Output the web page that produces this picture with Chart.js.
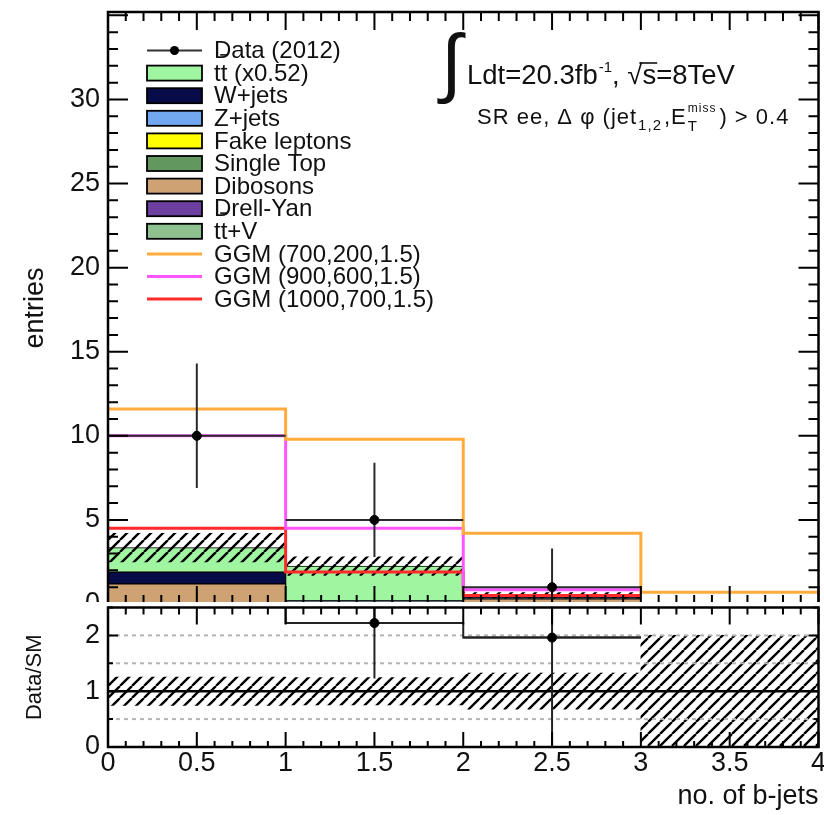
<!DOCTYPE html>
<html>
<head>
<meta charset="utf-8">
<script src="https://cdn.jsdelivr.net/npm/chart.js@4/dist/chart.umd.min.js"></script>
<style>
  html, body { margin: 0; padding: 0; background: #fff; }
  #wrap { position: relative; width: 824px; height: 815px; overflow: hidden; background: #fff; }
  #main { position: absolute; left: 0; top: 0; }
  #ratio { position: absolute; left: 0; top: 602px; background: #fff; }
</style>
</head>
<body>
<div id="wrap">
  <canvas id="main" width="824" height="815"></canvas>
  <canvas id="ratio" width="824" height="213"></canvas>
</div>
<script>
// ---- binning (number of b-jets) ----
const binLabels = ['0', '1', '2', '3'];
const binEdges = [0, 1, 2, 3, 4];
const binCenters = [0.5, 1.5, 2.5, 3.5];

// ---- SM backgrounds, entries per bin ----
const dibosons    = [1.20, 0.10, 0.30, 0.02];
const wJets       = [0.70, 0.05, 0.02, 0.00];
const zJets       = [0.00, 0.00, 0.00, 0.00];
const fakeLeptons = [0.00, 0.00, 0.00, 0.00];
const singleTop   = [0.00, 0.00, 0.04, 0.00];
const drellYan    = [0.00, 0.00, 0.02, 0.00];
const ttV         = [0.00, 0.05, 0.00, 0.00];
const ttbar       = [1.45, 2.05, 0.13, 0.03];
const smUncertainty = [0.85, 0.55, 0.165, 0.05];

// ---- GGM signal points ----
const ggm700  = [11.6, 9.8, 4.2, 0.7];
const ggm900  = [10.0, 4.5, 0.85, 0];
const ggm1000 = [4.5, 1.9, 0.5, 0];

// ---- observed data ----
const dataCounts  = [10, 5, 1, 0];
const dataErrLow  = [3.1, 2.2, 0.83, 0];
const dataErrHigh = [4.3, 3.4, 2.3, 0];

// ---- axes ----
const entriesMax = 35.2;
const entriesTicks = [0, 5, 10, 15, 20, 25, 30];
const ratioMax = 2.5;
const ratioTicks = [0, 1, 2];
const ratioGuides = [0.5, 1.5, 2];
const bjetTicks = [0, 0.5, 1, 1.5, 2, 2.5, 3, 3.5, 4];

const FONT = "'Liberation Sans', Arial, Helvetica, sans-serif";
const INK = '#111';
Chart.defaults.font.family = FONT;
Chart.defaults.color = INK;

// diagonal hatching used for the MC uncertainty bands
function hatch(period, width) {
  const c = document.createElement('canvas');
  c.width = period; c.height = period;
  const g = c.getContext('2d');
  g.strokeStyle = '#000';
  g.lineWidth = width;
  g.beginPath();
  for (let k = -1; k <= 1; k++) {
    g.moveTo(k * period, period);
    g.lineTo(k * period + period, 0);
  }
  g.stroke();
  return g.createPattern(c, 'repeat');
}

// histogram outline points; trailing empty bins are left out
function stepPoints(vals) {
  let n = vals.length;
  while (n > 0 && !(vals[n - 1] > 0)) n--;
  const pts = [];
  for (let i = 0; i < n; i++) pts.push({ x: binEdges[i], y: vals[i] });
  if (n) pts.push({ x: binEdges[n], y: vals[n - 1] });
  return pts;
}

// vertical + horizontal error bar segments, separated by gaps
function errorSegments(vals, lo, hi, keep) {
  const pts = [];
  vals.forEach((v, i) => {
    if (!keep(i)) return;
    const c = binCenters[i], hw = (binEdges[i + 1] - binEdges[i]) / 2;
    pts.push({ x: c, y: v - lo[i] }, { x: c, y: v + hi[i] }, { x: c, y: null });
    pts.push({ x: c - hw, y: v }, { x: c + hw, y: v }, { x: c + hw, y: null });
  });
  return pts;
}

const nonZero = vals => vals.map(v => (v > 0 ? v : null));

const stackDefs = [
  { label: 'Dibosons', values: dibosons, color: '#cfa274' },
  { label: 'W+jets', values: wJets, color: '#070c48' },
  { label: 'Z+jets', values: zJets, color: '#72a8f0' },
  { label: 'Fake leptons', values: fakeLeptons, color: '#ffff00' },
  { label: 'Single Top', values: singleTop, color: '#62985f' },
  { label: 'Drell-Yan', values: drellYan, color: '#6c3fa0' },
  { label: 'tt\u0304+V', values: ttV, color: '#8fc08f' },
  { label: 'tt\u0304 (x0.52)', values: ttbar, color: '#a0f5a0' }
];

const smTotal = binLabels.map((_, i) => stackDefs.reduce((s, d) => s + d.values[i], 0));

const barCommon = { barPercentage: 1, categoryPercentage: 1, grouped: false };

const stackDatasets = stackDefs.map((d, i) => ({
  type: 'bar',
  label: d.label,
  data: nonZero(d.values),
  backgroundColor: d.color,
  borderColor: '#000',
  borderWidth: 1,
  borderSkipped: false,
  ...barCommon,
  xAxisID: 'x',
  yAxisID: 'y',
  order: 10 + i
}));

const bandDataset = {
  type: 'bar',
  label: 'SM uncertainty',
  data: smTotal.map((t, i) => [Math.max(0, t - smUncertainty[i]), t + smUncertainty[i]]),
  backgroundColor: hatch(12, 2.4),
  borderWidth: 0,
  ...barCommon,
  xAxisID: 'x2',
  yAxisID: 'yl',
  order: 5
};

const ggmDefs = [
  { label: 'GGM (700,200,1.5)', values: ggm700, color: '#ffac3c' },
  { label: 'GGM (900,600,1.5)', values: ggm900, color: '#ff55ff' },
  { label: 'GGM (1000,700,1.5)', values: ggm1000, color: '#ff2a2a' }
];
const ggmDatasets = ggmDefs.map((d, i) => ({
  type: 'line',
  label: d.label,
  data: stepPoints(d.values),
  stepped: 'before',
  borderColor: d.color,
  borderWidth: 3,
  pointRadius: 0,
  fill: false,
  xAxisID: 'xl',
  yAxisID: 'yl',
  order: 2 + i * 0.1
}));

const hasData = i => dataCounts[i] > 0;
const dataErrDataset = {
  type: 'line',
  label: 'data errors',
  data: errorSegments(dataCounts, dataErrLow, dataErrHigh, hasData),
  borderColor: '#2a2a2a',
  borderWidth: 2,
  pointRadius: 0,
  spanGaps: false,
  xAxisID: 'xl',
  yAxisID: 'yl',
  order: 1
};
const dataDataset = {
  type: 'line',
  label: 'Data (2012)',
  data: dataCounts.map((v, i) => ({ x: binCenters[i], y: v > 0 ? v : null })),
  showLine: false,
  pointRadius: 4.5,
  pointBackgroundColor: '#000',
  pointBorderColor: '#000',
  borderColor: '#2a2a2a',
  xAxisID: 'xl',
  yAxisID: 'yl',
  order: 0
};

// ---- ratio panel quantities ----
const ratio = dataCounts.map((n, i) => n / smTotal[i]);
const ratioErr = dataCounts.map((n, i) => Math.sqrt(n) / smTotal[i]);
const ratioRel = smUncertainty.map((u, i) => u / smTotal[i]);
const inRatioRange = i => dataCounts[i] > 0 && ratio[i] <= ratioMax;

// inner ROOT-style tick marks and frame
const rootFrame = {
  id: 'rootFrame',
  afterDatasetsDraw(chart, args, o) {
    const { ctx, chartArea: a } = chart;
    const xs = chart.scales[o.xScale], ys = chart.scales[o.yScale];
    ctx.save();
    ctx.strokeStyle = '#000';
    ctx.lineWidth = 2;
    ctx.beginPath();
    const walk = (s, minor, major, cb) => {
      const n = Math.round((s.max - s.min) / minor);
      for (let k = 0; k <= n + 1e-6; k++) {
        const v = s.min + k * minor;
        if (v > s.max + 1e-9) break;
        const r = v / major;
        cb(s.getPixelForValue(v), Math.abs(r - Math.round(r)) < 1e-6);
      }
    };
    walk(xs, o.x.minor, o.x.major, (p, big) => {
      const b = big ? o.x.bottom[0] : o.x.bottom[1];
      const t = big ? o.x.top[0] : o.x.top[1];
      ctx.moveTo(p, a.bottom); ctx.lineTo(p, a.bottom - b);
      ctx.moveTo(p, a.top); ctx.lineTo(p, a.top + t);
    });
    walk(ys, o.y.minor, o.y.major, (p, big) => {
      const L = big ? o.y.len[0] : o.y.len[1];
      ctx.moveTo(a.left, p); ctx.lineTo(a.left + L, p);
      ctx.moveTo(a.right, p); ctx.lineTo(a.right - L, p);
    });
    ctx.stroke();
    ctx.lineWidth = 2.5;
    ctx.strokeRect(a.left, a.top, a.right - a.left, a.bottom - a.top);
    ctx.restore();
  }
};

// text with a combining macron drawn as a bar over the preceding letter
function drawText(ctx, text, x, y, size) {
  ctx.font = `${size}px ${FONT}`;
  const parts = text.split('\u0304');
  let cx = x;
  parts.forEach((p, i) => {
    ctx.fillText(p, cx, y);
    const w = ctx.measureText(p).width;
    if (i < parts.length - 1) {
      const lw = ctx.measureText(p.slice(-1)).width;
      ctx.save();
      ctx.strokeStyle = ctx.fillStyle;
      ctx.lineWidth = 1.6;
      ctx.beginPath();
      ctx.moveTo(cx + w - lw - 0.5, y - size * 0.8);
      ctx.lineTo(cx + w + 0.5, y - size * 0.8);
      ctx.stroke();
      ctx.restore();
    }
    cx += w;
  });
  return cx;
}

const legendOrder = ['Data (2012)', 'tt\u0304 (x0.52)', 'W+jets', 'Z+jets', 'Fake leptons', 'Single Top',
  'Dibosons', 'Drell-Yan', 'tt\u0304+V', 'GGM (700,200,1.5)', 'GGM (900,600,1.5)', 'GGM (1000,700,1.5)'];

const legendPlugin = {
  id: 'rootLegend',
  afterDraw(chart, args, o) {
    const ctx = chart.ctx;
    ctx.save();
    ctx.textBaseline = 'middle';
    legendOrder.forEach((name, i) => {
      const ds = chart.data.datasets.find(d => d.label === name);
      const y = o.top + i * o.step;
      if (ds.type === 'bar') {
        ctx.fillStyle = ds.backgroundColor;
        ctx.fillRect(o.x0, y - 7.5, o.x1 - o.x0, 15);
        ctx.strokeStyle = '#000';
        ctx.lineWidth = 1.8;
        ctx.strokeRect(o.x0, y - 7.5, o.x1 - o.x0, 15);
      } else if (ds.showLine === false) {
        ctx.strokeStyle = '#333';
        ctx.lineWidth = 2;
        ctx.beginPath(); ctx.moveTo(o.x0, y); ctx.lineTo(o.x1, y); ctx.stroke();
        ctx.fillStyle = '#000';
        ctx.beginPath(); ctx.arc((o.x0 + o.x1) / 2, y, 4.5, 0, Math.PI * 2); ctx.fill();
      } else {
        ctx.strokeStyle = ds.borderColor;
        ctx.lineWidth = 3;
        ctx.beginPath(); ctx.moveTo(o.x0, y); ctx.lineTo(o.x1, y); ctx.stroke();
      }
      ctx.fillStyle = INK;
      drawText(ctx, name, o.textX, y + 1, o.size);
    });
    ctx.restore();
  }
};

const infoPlugin = {
  id: 'infoText',
  afterDraw(chart) {
    const ctx = chart.ctx;
    ctx.save();
    ctx.fillStyle = INK;
    ctx.strokeStyle = INK;
    ctx.textBaseline = 'alphabetic';
    ctx.font = `76px ${FONT}`;
    ctx.fillText('\u222B', 441, 88);
    let x = 467, y = 84;
    x = drawText(ctx, 'Ldt=20.3fb', x, y, 27.5);
    x = drawText(ctx, '-1', x + 1, y - 12, 15);
    x = drawText(ctx, ', ', x, y, 27.5);
    const rx = x;
    x = drawText(ctx, '\u221As', x, y, 27.5);
    ctx.lineWidth = 1.6;
    ctx.beginPath();
    ctx.moveTo(rx + 12, y - 21); ctx.lineTo(x + 1, y - 21); ctx.stroke();
    drawText(ctx, '=8TeV', x, y, 27.5);

    ctx.letterSpacing = '1px';
    y = 124;
    x = 477;
    x = drawText(ctx, 'SR ee, \u0394 \u03C6 (jet', x, y, 22);
    x = drawText(ctx, '1,2', x + 1, y + 6, 15);
    x = drawText(ctx, ',E', x + 2, y, 22);
    const sx = x + 1;
    const wSub = drawText(ctx, 'T', sx, y + 7, 15);
    const wSup = drawText(ctx, 'miss', sx, y - 12, 12);
    x = Math.max(wSub, wSup) + 3;
    drawText(ctx, ') > 0.4', x, y, 22);
    ctx.restore();
  }
};

const hiddenLinear = (max) => ({ type: 'linear', min: 0, max, display: false, offset: false });
const noPad = s => { s.paddingTop = 0; s.paddingBottom = 0; s.paddingLeft = 0; s.paddingRight = 0; };

new Chart(document.getElementById('main'), {
  type: 'bar',
  data: {
    labels: binLabels,
    datasets: [...stackDatasets, bandDataset, ...ggmDatasets, dataErrDataset, dataDataset]
  },
  options: {
    responsive: false,
    animation: false,
    layout: { padding: { left: 0, right: 2, top: 12, bottom: 211 } },
    plugins: {
      legend: { display: false },
      tooltip: { enabled: false },
      rootFrame: {
        xScale: 'xl', yScale: 'y',
        x: { minor: 0.1, major: 0.5, bottom: [18, 9], top: [18, 9] },
        y: { minor: 1, major: 5, len: [20, 10] }
      },
      rootLegend: { x0: 147, x1: 202, textX: 214, top: 50.5, step: 22.6, size: 24 }
    },
    scales: {
      x: { type: 'category', labels: binLabels, display: false, stacked: true, offset: true },
      x2: { type: 'category', labels: binLabels, display: false, offset: true },
      xl: hiddenLinear(4),
      yl: hiddenLinear(entriesMax),
      y: {
        type: 'linear', position: 'left', stacked: true, min: 0, max: entriesMax,
        afterBuildTicks: s => { s.ticks = entriesTicks.map(v => ({ value: v })); },
        ticks: { font: { size: 27 }, padding: 8, color: INK, callback: v => String(v) },
        grid: { display: false, drawTicks: false },
        border: { display: false },
        title: { display: true, text: 'entries', font: { size: 27 }, color: INK, padding: { top: 19, bottom: 0 } },
        afterFit: s => { s.width = 108; noPad(s); }
      }
    }
  },
  plugins: [rootFrame, legendPlugin, infoPlugin]
});

// ---- Data/SM panel ----
const guideDatasets = ratioGuides.map(g => ({
  type: 'line',
  label: 'guide ' + g,
  data: [{ x: 0, y: g }, { x: 4, y: g }],
  borderColor: '#b4b4b4',
  borderWidth: 2,
  borderDash: [4, 4],
  pointRadius: 0,
  xAxisID: 'xl', yAxisID: 'y',
  order: 6
}));

new Chart(document.getElementById('ratio'), {
  type: 'bar',
  data: {
    labels: binLabels,
    datasets: [
      {
        type: 'bar', label: 'SM uncertainty',
        data: ratioRel.map(r => [Math.max(0, 1 - r), 1 + r]),
        backgroundColor: hatch(12, 2.4), borderWidth: 0,
        ...barCommon,
        xAxisID: 'x', yAxisID: 'y', order: 8
      },
      ...guideDatasets,
      {
        type: 'line', label: 'unity',
        data: [{ x: 0, y: 1 }, { x: 4, y: 1 }],
        borderColor: '#000', borderWidth: 2.5, pointRadius: 0,
        xAxisID: 'xl', yAxisID: 'y', order: 4
      },
      {
        type: 'line', label: 'Data/SM',
        data: stepPoints(ratio),
        stepped: 'before', borderColor: '#222', borderWidth: 2, pointRadius: 0,
        xAxisID: 'xl', yAxisID: 'y', order: 3
      },
      {
        type: 'line', label: 'ratio errors',
        data: errorSegments(ratio, ratioErr, ratioErr, inRatioRange),
        borderColor: '#222', borderWidth: 2, pointRadius: 0, spanGaps: false,
        xAxisID: 'xl', yAxisID: 'y', order: 1
      },
      {
        type: 'line', label: 'ratio points',
        data: ratio.map((r, i) => ({ x: binCenters[i], y: inRatioRange(i) ? r : null })),
        showLine: false, pointRadius: 4.5,
        pointBackgroundColor: '#000', pointBorderColor: '#000',
        xAxisID: 'xl', yAxisID: 'y', order: 0
      }
    ]
  },
  options: {
    responsive: false,
    animation: false,
    layout: { padding: { left: 0, right: 2, top: 4, bottom: 0 } },
    plugins: {
      legend: { display: false },
      tooltip: { enabled: false },
      rootFrame: {
        xScale: 'xl', yScale: 'y',
        x: { minor: 0.1, major: 0.5, bottom: [15, 6], top: [17, 7] },
        y: { minor: 0.5, major: 1, len: [10, 5] }
      }
    },
    scales: {
      x: { type: 'category', labels: binLabels, display: false, offset: true },
      xl: {
        type: 'linear', position: 'bottom', min: 0, max: 4, offset: false,
        afterBuildTicks: s => { s.ticks = bjetTicks.map(v => ({ value: v })); },
        ticks: { font: { size: 27 }, padding: 0, color: INK, maxRotation: 0, autoSkip: false, callback: v => String(v) },
        grid: { display: false, drawTicks: false, offset: false },
        border: { display: false },
        title: { display: true, text: 'no. of b-jets', align: 'end', font: { size: 27 }, color: INK, padding: { top: 0, bottom: 2 } },
        afterFit: s => { s.height = 68; noPad(s); }
      },
      y: {
        type: 'linear', position: 'left', min: 0, max: ratioMax,
        afterBuildTicks: s => { s.ticks = ratioTicks.map(v => ({ value: v })); },
        ticks: { font: { size: 27 }, padding: 8, color: INK, callback: v => String(v) },
        grid: { display: false, drawTicks: false },
        border: { display: false },
        title: { display: true, text: 'Data/SM', font: { size: 22 }, color: INK, padding: { top: 22, bottom: 0 } },
        afterFit: s => { s.width = 108; noPad(s); }
      }
    }
  },
  plugins: [rootFrame]
});
</script>
</body>
</html>
